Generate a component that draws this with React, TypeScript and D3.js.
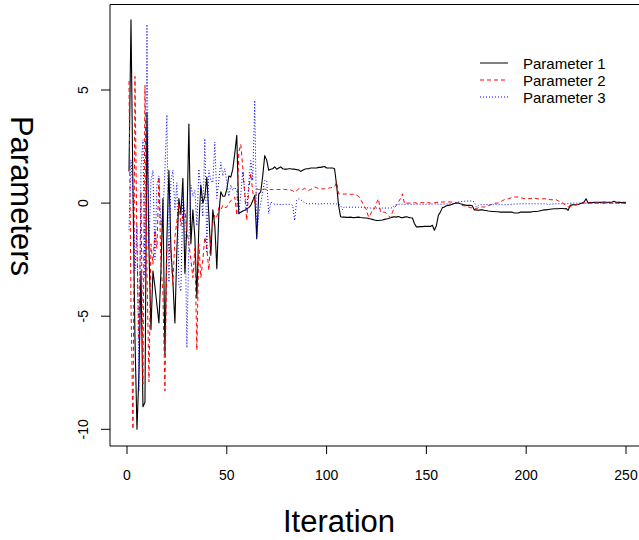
import React from "react";
import * as d3 from "d3";

const xTicks = [0, 50, 100, 150, 200, 250];
const yTicks = [-10, -5, 0, 5];
const seriesNames = ["Parameter 1", "Parameter 2", "Parameter 3"];

const param1 = [
  1.4, 8.1, 0.5, -6.0, -10.0, -7.5, -3.0, -9.0, -8.8, 4.0,
  -2.0, -5.6, -3.0, -3.7, -4.5, -5.3, -3.0, 0.2, -6.7, -1.5,
  1.45, -2.0, -3.5, -5.3, -2.0, 0.2, -0.5, 1.1, -3.1, -1.0,
  3.5, -1.8, -0.3, -1.5, -4.2, -1.0, 0.8, 0.0, 0.3, 1.15,
  -0.5, -2.3, -0.3, -1.0, -2.9, -0.5, 0.5, 0.3, 0.3, 0.6,
  1.2, 1.15, 1.5, 2.2, 3.0, -0.47, -0.4, -0.35, -0.32, -0.25,
  -0.2, -0.1, 0.1, 0.34, -1.58, 0.4, 0.5, 1.2, 2.1, 1.9,
  1.45, 1.5, 1.52, 1.6, 1.5, 1.55, 1.6, 1.52, 1.5, 1.5,
  1.52, 1.52, 1.5, 1.5, 1.48, 1.47, 1.4, 1.45, 1.5, 1.52,
  1.52, 1.55, 1.55, 1.55, 1.55, 1.58, 1.58, 1.6, 1.62, 1.55,
  1.55, 1.55, 1.55, 1.52, 0.8, -0.1, -0.6, -0.62, -0.62, -0.63,
  -0.63, -0.62, -0.64, -0.64, -0.63, -0.62, -0.64, -0.65, -0.66, -0.66,
  -0.68, -0.7, -0.72, -0.75, -0.77, -0.77, -0.76, -0.75, -0.72, -0.7,
  -0.68, -0.65, -0.62, -0.6, -0.62, -0.59, -0.63, -0.65, -0.62, -0.6,
  -0.63, -0.65, -0.66, -0.9, -1.05, -1.05, -1.04, -1.04, -1.03, -1.03,
  -1.03, -1.03, -0.98, -1.2, -1.0, -0.54, -0.4, -0.2, -0.17, -0.12,
  -0.1, -0.08, -0.05, -0.02, 0.0, 0.0, -0.03, -0.05, -0.08, -0.1,
  -0.1, -0.1, -0.12, -0.3, -0.3, -0.32, -0.3, -0.3, -0.32, -0.33,
  -0.35, -0.36, -0.37, -0.37, -0.38, -0.38, -0.4, -0.4, -0.4, -0.4,
  -0.4, -0.4, -0.4, -0.44, -0.44, -0.44, -0.4, -0.4, -0.4, -0.4,
  -0.4, -0.4, -0.38, -0.37, -0.37, -0.36, -0.34, -0.32, -0.3, -0.3,
  -0.28, -0.27, -0.26, -0.25, -0.25, -0.25, -0.24, -0.24, -0.25, -0.24,
  -0.32, -0.1, -0.08, -0.07, -0.07, -0.06, -0.03, 0.0, 0.05, 0.19,
  0.0, 0.03, 0.02, 0.03, 0.04, 0.04, 0.03, 0.04, 0.05, 0.04,
  0.04, 0.03, 0.05, 0.08, 0.04, 0.03, 0.03, 0.02, 0.03, 0.02,
];

const param2 = [
  5.4, -4.5, -10.0, 5.6, -2.0, -6.2, 0.5, -8.0, 5.2, -3.0,
  -7.9, -1.8, -2.7, -1.2, -2.0, 1.15, -2.7, -4.0, -8.3, -2.0,
  -1.8, -2.3, -3.6, -1.5, -0.8, 0.0, -1.0, -0.5, -0.3, -1.2,
  -1.8, -2.5, -3.3, -2.0, -6.5, -1.8, -3.3, -2.5, -1.5, -2.0,
  -2.97, -1.5, -0.9, -0.5, -0.6, -0.2, -0.3, -0.1, -0.2, -0.18,
  0.0, 0.1, 0.2, 0.27, -0.54, 2.25, 2.6, 1.6, 0.34, -0.77,
  0.6, 1.3, 0.5, -0.03, 0.63, 0.6, 0.58, 0.6, 0.62, 0.6,
  0.58, 0.6, 0.6, 0.58, 0.6, 0.6, 0.6, 0.62, 0.6, 0.6,
  0.58, 0.58, 0.55, 0.48, 0.55, 0.63, 0.63, 0.6, 0.65, 0.6,
  0.56, 0.6, 0.65, 0.71, 0.68, 0.65, 0.63, 0.63, 0.63, 0.65,
  0.66, 0.68, 0.7, 0.71, 0.93, 0.41, 0.4, 0.4, 0.4, 0.4,
  0.4, 0.39, 0.39, 0.39, 0.35, 0.3, 0.19, 0.0, -0.15, -0.3,
  -0.62, -0.5, -0.3, -0.25, 0.0, 0.19, -0.4, -0.4, -0.4, -0.45,
  -0.55, -0.65, -0.4, -0.2, -0.1, 0.05, 0.2, 0.41, -0.03, 0.0,
  0.0, 0.0, 0.02, 0.02, 0.0, 0.0, 0.02, 0.02, 0.02, 0.0,
  0.02, 0.0, 0.0, 0.02, 0.03, 0.03, 0.04, 0.05, 0.05, 0.05,
  0.05, 0.05, 0.05, 0.03, 0.0, 0.0, -0.05, -0.1, -0.12, -0.15,
  -0.17, -0.2, -0.22, -0.25, -0.25, -0.2, -0.17, -0.17, -0.17, -0.17,
  -0.12, -0.08, -0.05, -0.02, 0.0, 0.0, 0.05, 0.1, 0.15, 0.19,
  0.19, 0.22, 0.25, 0.27, 0.27, 0.27, 0.25, 0.22, 0.2, 0.2,
  0.19, 0.2, 0.22, 0.22, 0.2, 0.19, 0.19, 0.19, 0.19, 0.19,
  0.17, 0.15, 0.15, 0.15, 0.15, 0.1, 0.05, 0.02, -0.05, -0.12,
  -0.17, -0.15, -0.12, -0.1, -0.08, -0.05, -0.02, 0.0, 0.0, 0.02,
  0.0, 0.0, 0.02, 0.0, 0.0, 0.0, 0.02, 0.0, 0.0, 0.0,
  0.02, 0.0, 0.0, 0.0, 0.0, 0.0, 0.0, 0.0, 0.0, 0.0,
];

const param3 = [
  -1.2, 1.9, 0.5, -3.0, -1.0, -8.3, 1.6, 2.8, -3.3, 7.9,
  -2.0, 1.0, 1.45, -2.5, 0.8, 1.2, -1.0, -0.5, 1.5, 3.9,
  -3.5, 1.0, 1.45, -0.3, 0.9, -3.6, -3.9, 0.5, -0.5, -6.4,
  -1.7, 0.8, 0.3, 0.56, -1.0, 1.5, 0.6, -0.6, 2.85, -2.2,
  1.45, 1.0, 0.9, 2.7, 0.2, 1.0, 1.8, 1.2, 1.52, 0.93,
  0.3, 0.8, 0.56, 0.7, 0.56, -0.47, 0.4, 1.4, 0.5, -0.3,
  0.9, 1.88, 1.0, 4.54, -1.5, -0.5, 0.0, 0.5, 1.0, 1.0,
  -0.47, 0.04, 0.0, -0.05, -0.05, -0.06, -0.06, -0.06, -0.06, -0.05,
  -0.05, -0.06, -0.1, -0.77, 0.12, 0.19, 0.15, 0.08, 0.02, -0.02,
  -0.03, -0.03, -0.02, -0.03, -0.03, -0.04, -0.03, -0.03, -0.02, -0.03,
  -0.03, -0.03, -0.03, -0.04, -0.04, -0.05, -0.1, -0.29, -0.15, -0.18,
  -0.18, -0.18, -0.18, -0.18, -0.18, -0.18, -0.18, -0.18, -0.2, -0.2,
  -0.22, -0.22, -0.23, -0.22, -0.22, -0.23, -0.22, -0.22, -0.22, -0.22,
  -0.22, -0.22, -0.2, -0.1, -0.06, -0.05, -0.05, -0.05, -0.05, -0.05,
  -0.05, -0.05, -0.05, -0.05, -0.05, -0.05, -0.05, -0.05, -0.05, -0.05,
  -0.05, -0.05, -0.04, -0.04, -0.04, -0.05, -0.05, -0.05, -0.04, -0.04,
  -0.04, -0.03, -0.02, 0.0, 0.02, 0.05, 0.06, 0.08, 0.08, 0.09,
  0.09, 0.09, 0.09, 0.05, -0.18, -0.1, -0.07, -0.07, -0.07, -0.07,
  -0.07, -0.07, -0.07, -0.07, -0.07, -0.07, -0.07, -0.07, -0.07, -0.07,
  -0.07, -0.06, -0.05, -0.04, -0.04, -0.03, -0.03, -0.03, -0.03, -0.03,
  -0.03, -0.03, -0.03, -0.03, -0.03, -0.03, -0.03, -0.03, -0.03, -0.03,
  -0.06, -0.05, -0.04, -0.03, -0.03, -0.03, -0.03, -0.03, -0.03, -0.03,
  -0.02, -0.01, 0.0, 0.0, 0.0, 0.0, 0.0, 0.0, 0.0, 0.0,
  0.0, 0.0, 0.0, 0.0, 0.0, 0.0, 0.0, 0.0, 0.0, 0.0,
  0.0, 0.0, 0.0, 0.0, 0.0, 0.0, 0.0, 0.0, 0.0, 0.0,
];

const seriesData = [param1, param2, param3];
const seriesColors = ["#000000", "#ff0000", "#0000ff"];
const seriesDash = [null, "4,3", "1,2"];
const seriesWidth = [1.1, 1, 1];

const W = 639;
const H = 540;
const FONT = "'Liberation Sans', Arial, Helvetica, sans-serif";

export default function App() {
  const x = d3.scaleLinear().domain([0, 250]).range([127, 626]);
  const y = d3.scaleLinear().domain([-10, 5]).range([429.3, 90]);
  const left = 110;
  const top = 4.5;
  const bottom = 446;

  const line = d3
    .line<number>()
    .x((_, i) => x(i + 1))
    .y((d) => y(d));

  const legendX0 = 480;
  const legendX1 = 508;
  const legendRows = [63, 80, 97];

  return (
    <svg
      width={W}
      height={H}
      style={{ position: "absolute", left: 0, top: 0, background: "#fff" }}
      fontFamily={FONT}
    >
      <rect x={0} y={0} width={W} height={H} fill="#fff" />
      {seriesData.map((s, k) => (
        <path
          key={k}
          d={line(s) || ""}
          fill="none"
          stroke={seriesColors[k]}
          strokeWidth={seriesWidth[k]}
          strokeDasharray={seriesDash[k] || undefined}
          strokeLinejoin="round"
        />
      ))}
      <path
        d={`M${W} ${top}H${left}V${bottom}H${W}`}
        fill="none"
        stroke="#000"
        strokeWidth={1}
      />
      {xTicks.map((t) => (
        <g key={"x" + t}>
          <line x1={x(t)} x2={x(t)} y1={bottom} y2={bottom + 8} stroke="#000" />
          <text x={x(t)} y={480} fontSize={14} textAnchor="middle" fill="#000">
            {t}
          </text>
        </g>
      ))}
      {yTicks.map((t) => (
        <g key={"y" + t}>
          <line x1={left - 9} x2={left} y1={y(t)} y2={y(t)} stroke="#000" />
          <text
            transform={`translate(88,${y(t)}) rotate(-90)`}
            fontSize={14}
            textAnchor="middle"
            fill="#000"
          >
            {t}
          </text>
        </g>
      ))}
      <text x={339} y={532} fontSize={31} textAnchor="middle" fill="#000">
        Iteration
      </text>
      <text
        transform={`translate(11,196) rotate(90)`}
        fontSize={31}
        textAnchor="middle"
        fill="#000"
      >
        Parameters
      </text>
      {seriesNames.map((n, k) => (
        <g key={n}>
          <line
            x1={legendX0}
            x2={legendX1}
            y1={legendRows[k]}
            y2={legendRows[k]}
            stroke={seriesColors[k]}
            strokeWidth={1}
            strokeDasharray={seriesDash[k] || undefined}
          />
          <text x={523} y={legendRows[k] + 6} fontSize={15} fill="#000">
            {n}
          </text>
        </g>
      ))}
    </svg>
  );
}
